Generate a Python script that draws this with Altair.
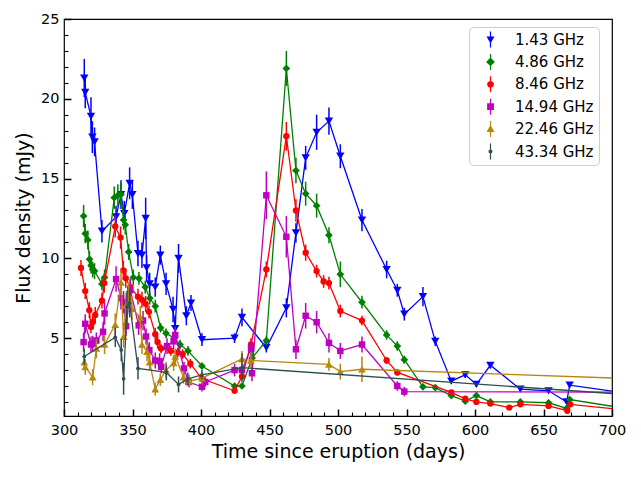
import altair as alt
import pandas as pd

bands = ["1.43 GHz", "4.86 GHz", "8.46 GHz", "14.94 GHz", "22.46 GHz", "43.34 GHz"]
colors = ["#0000ff", "#008000", "#ff0000", "#bf00bf", "#b8860b", "#2f4f4f"]
shapes = ["triangle-down", "diamond", "circle", "square", "triangle-up", "circle"]
sizes = [70, 60, 40, 42, 60, 14]

t_143 = [314.8, 315.5, 319.7, 320.7, 322.3, 327.7, 338.0, 341.6, 344.0, 347.9,
         349.9, 354.0, 356.9, 359.6, 360.3, 362.5, 366.6, 370.3, 374.5, 379.6,
         381.2, 383.6, 389.3, 392.7, 400.7, 424.5, 429.9, 447.7, 462.3, 469.3,
         476.4, 484.4, 493.4, 501.7, 517.5, 535.5, 543.3, 548.4, 562.0, 571.0,
         582.7, 592.9, 601.0, 611.2, 633.1, 653.7, 666.9, 669.1, 740.0]
f_143 = [21.3, 20.4, 18.9, 17.6, 17.3, 11.7, 12.6, 14.0, 12.8, 14.7,
         14.0, 10.3, 10.2, 12.5, 9.4, 8.4, 8.2, 10.2, 8.4, 6.8,
         5.6, 10.0, 6.4, 7.2, 4.9, 5.0, 6.3, 4.4, 6.9, 11.6,
         16.3, 17.9, 18.6, 16.4, 12.4, 9.3, 8.0, 6.5, 7.6, 4.8,
         2.3, 2.7, 2.1, 3.3, 1.8, 1.7, 1.0, 2.05, 1.2]
e_143 = [1.2, 1.0, 1.2, 1.0, 0.9, 0.7, 0.7, 0.9, 0.8, 1.0,
         0.9, 0.8, 0.8, 1.3, 0.8, 0.7, 0.6, 0.6, 0.7, 0.8,
         0.8, 0.9, 0.6, 0.5, 0.4, 0.3, 0.55, 0.3, 0.6, 0.6,
         0.75, 1.1, 0.85, 0.75, 0.7, 0.55, 0.4, 0.4, 0.6, 0.3,
         0.15, 0.2, 0.15, 0.2, 0.1, 0.1, 0.1, 0.15, 0.1]

t_486 = [314.3, 315.5, 317.4, 318.6, 319.8, 320.9, 322.3, 327.7, 329.6, 336.7,
         339.3, 341.6, 343.5, 344.7, 347.2, 350.6, 354.7, 359.3, 362.6, 366.6,
         370.5, 374.5, 380.5, 384.7, 390.5, 400.7, 424.5, 429.9, 437.3, 447.7,
         462.3, 469.3, 476.4, 484.4, 493.4, 501.7, 517.5, 535.5, 543.3, 548.4,
         562.0, 571.0, 582.7, 592.9, 601.0, 611.2, 633.1, 653.7, 666.9, 669.1, 720.0]
f_486 = [12.65, 11.55, 11.15, 9.95, 9.55, 9.3, 9.2, 8.4, 8.8, 13.8,
         13.95, 14.0, 12.4, 12.1, 10.4, 8.8, 8.75, 8.2, 7.5, 7.0,
         5.65, 5.3, 5.0, 4.6, 4.2, 3.25, 2.0, 2.0, 3.75, 4.85,
         21.9, 15.5, 14.05, 13.3, 11.45, 9.0, 7.25, 5.2, 4.5, 3.65,
         1.95, 1.9, 1.4, 1.05, 1.4, 1.0, 1.0, 0.95, 0.6, 1.15, 0.46]
e_486 = [0.7, 0.6, 0.6, 0.5, 0.5, 0.5, 0.5, 0.4, 0.5, 0.7,
         0.7, 0.7, 0.6, 0.6, 0.5, 0.5, 0.4, 0.4, 0.4, 0.4,
         0.3, 0.3, 0.3, 0.3, 0.3, 0.2, 0.15, 0.15, 0.6, 0.3,
         1.1, 0.8, 0.75, 0.75, 0.5, 0.8, 0.4, 0.3, 0.3, 0.25,
         0.15, 0.1, 0.1, 0.1, 0.1, 0.1, 0.1, 0.1, 0.1, 0.1, 0.05]

t_846 = [312.4, 315.5, 318.5, 319.7, 320.9, 322.8, 327.7, 329.4, 337.4, 341.3,
         343.3, 345.1, 348.4, 354.0, 356.9, 359.6, 362.0, 366.6, 368.3, 370.8,
         378.0, 383.0, 386.6, 392.2, 400.7, 424.5, 429.9, 436.5, 447.7, 462.3,
         469.3, 476.4, 484.4, 489.5, 493.4, 501.7, 517.5, 535.5, 543.3, 582.7,
         592.9, 601.0, 611.2, 625.0, 633.1, 653.7, 667.4, 669.5, 730.0]
f_846 = [9.4, 7.95, 6.75, 5.7, 6.0, 6.45, 7.35, 8.45, 12.0, 11.3,
         9.25, 8.75, 8.2, 7.6, 7.4, 7.15, 6.65, 5.25, 4.75, 4.35,
         4.2, 4.1, 4.0, 3.4, 2.45, 1.7, 2.6, 4.6, 9.3, 17.65,
         13.0, 10.35, 9.2, 8.55, 8.45, 6.7, 6.1, 3.6, 2.85, 1.6,
         1.2, 1.0, 0.9, 0.65, 0.85, 0.75, 0.45, 0.85, 0.33]
e_846 = [0.5, 0.5, 0.5, 0.4, 0.4, 0.5, 0.5, 0.6, 0.7, 0.7,
         0.6, 0.6, 0.5, 0.5, 0.5, 0.5, 0.4, 0.4, 0.4, 0.3,
         0.3, 0.3, 0.3, 0.3, 0.2, 0.1, 0.2, 0.4, 0.5, 0.9,
         0.7, 0.5, 0.4, 0.4, 0.4, 0.4, 0.3, 0.2, 0.2, 0.1,
         0.1, 0.1, 0.1, 0.05, 0.05, 0.05, 0.05, 0.05, 0.05]

t_1494 = [314.3, 315.5, 319.7, 320.9, 323.6, 328.5, 329.6, 338.0, 341.6, 343.5,
          345.3, 348.4, 354.5, 357.7, 359.9, 362.3, 366.6, 369.8, 371.0, 375.2,
          380.0, 381.2, 387.6, 390.9, 400.7, 403.1, 424.5, 429.9, 436.5, 437.2,
          447.7, 462.3, 469.3, 476.4, 484.4, 493.4, 501.7, 517.5, 543.3, 548.4, 800.0]
f_1494 = [4.75, 5.9, 4.6, 4.65, 4.85, 5.4, 6.55, 8.7, 7.5, 7.25,
          5.75, 8.0, 5.8, 6.1, 5.1, 4.25, 3.6, 3.55, 3.2, 4.5,
          4.8, 5.2, 3.1, 2.25, 1.95, 2.25, 3.0, 3.0, 4.35, 2.8,
          13.95, 11.35, 4.3, 6.4, 6.0, 4.7, 4.2, 4.6, 2.0, 1.65, 1.6]
e_1494 = [0.6, 0.6, 0.5, 0.5, 0.5, 0.6, 0.7, 0.8, 0.7, 0.7,
          0.6, 0.7, 0.6, 0.6, 0.5, 0.5, 0.5, 0.5, 0.4, 0.5,
          0.5, 0.5, 0.4, 0.3, 0.3, 0.3, 0.4, 0.4, 0.5, 0.5,
          1.5, 1.3, 0.6, 0.8, 0.7, 0.6, 0.5, 0.5, 0.3, 0.3, 0.1]

t_2246 = [314.8, 315.5, 320.9, 323.6, 329.6, 337.4, 341.6, 343.5, 345.3, 347.2,
          349.6, 355.7, 356.9, 360.6, 362.5, 366.6, 370.3, 374.5, 380.0, 381.2,
          387.3, 391.5, 400.7, 429.9, 436.5, 493.4, 501.7, 517.5, 900.0]
f_2246 = [3.5, 3.2, 2.55, 4.35, 4.6, 5.85, 8.5, 5.1, 7.05, 7.7,
          6.85, 6.3, 4.6, 4.15, 3.5, 1.8, 2.4, 3.0, 3.45, 3.85,
          2.55, 2.3, 2.5, 3.7, 3.6, 3.35, 2.9, 3.05, 1.9]
e_2246 = [0.5, 0.5, 0.5, 0.6, 0.6, 0.7, 0.8, 0.7, 0.8, 0.8,
          0.7, 0.7, 0.6, 0.6, 0.5, 0.4, 0.4, 0.5, 0.5, 0.5,
          0.4, 0.4, 0.4, 0.5, 0.5, 0.4, 0.5, 0.8, 0.1]

t_4334 = [314.8, 337.4, 341.8, 343.5, 346.0, 347.9, 354.0, 374.7, 383.6, 390.4,
          400.7, 429.9, 800.0]
f_4334 = [3.85, 5.05, 4.25, 2.45, 6.95, 7.2, 3.1, 2.85, 2.1, 2.45,
          2.7, 3.15, 0.93]
e_4334 = [0.5, 0.6, 0.7, 1.0, 1.0, 0.9, 0.7, 0.5, 0.5, 0.4,
          0.3, 0.9, 0.1]

series = [
    (bands[0], t_143, f_143, e_143),
    (bands[1], t_486, f_486, e_486),
    (bands[2], t_846, f_846, e_846),
    (bands[3], t_1494, f_1494, e_1494),
    (bands[4], t_2246, f_2246, e_2246),
    (bands[5], t_4334, f_4334, e_4334),
]

rows = []
for name, ts, fs, es in series:
    for t, f, e in zip(ts, fs, es):
        rows.append({"band": name, "t": t, "f": f, "lo": f - e, "hi": f + e})
df = pd.DataFrame(rows)

W, H = 548, 397
FONT = "DejaVu Sans"
xs = alt.Scale(domain=[300, 700], nice=False, zero=False)
ys = alt.Scale(domain=[0.12, 25], nice=False, zero=False)
cs = alt.Scale(domain=bands, range=colors)

x_major = list(range(300, 701, 50))
x_minor = [v for v in range(310, 700, 10) if v % 50]
y_major = [5, 10, 15, 20, 25]
y_minor = [v for v in range(1, 25) if v % 5]

x_axis_main = alt.Axis(orient="bottom", values=x_major, format="d", ticks=False,
                       domain=False, grid=False, labelPadding=7, labelFlush=False,
                       labelFont=FONT, labelFontSize=14.5, labelColor="black",
                       title="Time since eruption (days)", titleFont=FONT,
                       titleFontSize=19, titleFontWeight="normal", titleColor="black",
                       titlePadding=6)
y_axis_main = alt.Axis(orient="left", values=y_major, format="d", ticks=False,
                       domain=False, grid=False, labelPadding=5, labelFlush=False,
                       labelFont=FONT, labelFontSize=14.5, labelColor="black",
                       title="Flux density (mJy)", titleFont=FONT,
                       titleFontSize=19, titleFontWeight="normal", titleColor="black",
                       titlePadding=7)

X0 = alt.X("t:Q", scale=xs, axis=None)
Y0 = alt.Y("f:Q", scale=ys, axis=None)
col = alt.Color("band:N", scale=cs, legend=None)

tick_df = pd.DataFrame({"t": [1000.0], "f": [10.0]})


def tick_layer(xv, yv, size, width):
    return alt.Chart(tick_df).mark_point(opacity=0, clip=True).encode(
        x=alt.X("t:Q", scale=xs, axis=alt.Axis(orient="top", offset=-H, values=xv,
                                                tickSize=size, tickWidth=width,
                                                tickColor="black", labels=False,
                                                domain=False, grid=False, title=None)),
        y=alt.Y("f:Q", scale=ys, axis=alt.Axis(orient="right", offset=-W, values=yv,
                                                tickSize=size, tickWidth=width,
                                                tickColor="black", labels=False,
                                                domain=False, grid=False, title=None)),
    )


# guide layer: main axes (labels + titles) and the legend
bar = "M-0.15,-2H0.15V2H-0.15Z"
legend_paths = [
    bar + "M-1,-0.75H1L0,1Z",
    bar + "M0,-1.1L1.1,0L0,1.1L-1.1,0Z",
    bar + "M0.85,0A0.85,0.85,0,1,1,-0.85,0A0.85,0.85,0,1,1,0.85,0Z",
    bar + "M-0.85,-0.85H0.85V0.85H-0.85Z",
    bar + "M-1,0.75L0,-1L1,0.75Z",
    bar + "M0.5,0A0.5,0.5,0,1,1,-0.5,0A0.5,0.5,0,1,1,0.5,0Z",
]

leg = alt.Legend(title=None, orient="none", legendX=405, legendY=8,
                 labelFont=FONT, labelFontSize=15, labelColor="black",
                 symbolSize=64, symbolStrokeWidth=0, rowPadding=5.4, padding=5,
                 symbolOffset=9, labelOffset=17, strokeColor="#cccccc",
                 fillColor="white", cornerRadius=4, labelLimit=200)

leg_df = pd.DataFrame({"band": bands, "t": [1000.0] * 6, "f": [10.0] * 6})
guide_layer = alt.Chart(leg_df).mark_point(filled=True, opacity=1, size=64, clip=True).encode(
    x=alt.X("t:Q", scale=xs, axis=x_axis_main),
    y=alt.Y("f:Q", scale=ys, axis=y_axis_main),
    color=alt.Color("band:N", scale=cs, legend=leg),
    shape=alt.Shape("band:N", scale=alt.Scale(domain=bands, range=legend_paths), legend=leg),
)

layers = [guide_layer, tick_layer(x_major, y_major, 7, 1.5), tick_layer(x_minor, y_minor, 4, 1.1)]
for name, shp, sz in zip(bands, shapes, sizes):
    base = alt.Chart(df).transform_filter(alt.datum.band == name)
    err = base.mark_rule(strokeWidth=1.5, clip=True).encode(
        x=X0, y=alt.Y("lo:Q", scale=ys, axis=None), y2="hi:Q", color=col)
    line = base.mark_line(strokeWidth=1.3, clip=True).encode(x=X0, y=Y0, color=col)
    pts = base.mark_point(shape=shp, size=sz, filled=True, opacity=1, clip=True,
                          strokeWidth=0).encode(x=X0, y=Y0, color=col)
    layers += [err, line, pts]

chart = alt.layer(*layers).resolve_axis(x="independent", y="independent").properties(
    width=W, height=H, autosize="none",
    padding={"left": 56, "top": 11, "right": 20, "bottom": 55},
).configure(font=FONT).configure_view(stroke="black", strokeWidth=1.2)

chart.save("out.html", embed_options={"renderer": "svg", "actions": False})
